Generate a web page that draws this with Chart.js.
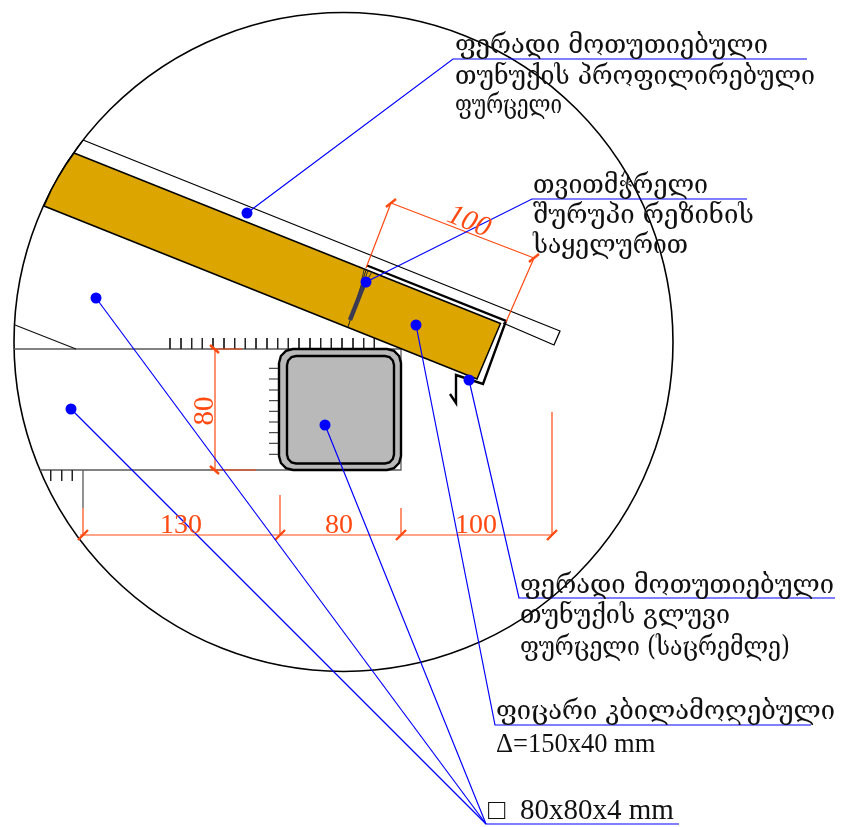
<!DOCTYPE html>
<html>
<head>
<meta charset="utf-8">
<script src="https://cdn.jsdelivr.net/npm/chart.js@4/dist/chart.umd.min.js"></script>
<style>
html, body { margin: 0; background: #fff; }
canvas { display: block; }
</style>
</head>
<body>
<canvas id="detailChart" width="863" height="827"></canvas>
<script>
// all coordinates are drawing units, the axes run 0-863 and 0-827
let circleCenter = [[343.5, 342]];
let beamOutline = [[74, 153], [65.6, 165], [58.3, 177], [51.2, 190], [44, 206], [477, 379], [500.5, 323.5], [74, 153]];
let beamJoint = [[366, 270], [348, 327]];
let screwBody = [[365, 282], [350, 320]];
let screwHead = [[364, 270], [362, 279], null, [368, 270], [365, 279], null, [372, 272], [367, 280]];
let sheetEdges = [[83, 140], [560, 331], [554, 345], [503, 323]];
let sheetStart = [[83, 140], [74, 153]];
let flashing = [[367, 265.5], [506, 321], [483, 384], [456, 375], [456, 403], [450, 394]];
let wallLines = [[14, 349], [401, 349], [401, 470], [40, 470], null, [83, 470], [83, 508]];
let wallSlope = [[15, 325], [76, 349]];
let tubeOuter = [[279, 363], [280.9, 356], [286, 350.9], [293, 349], [387, 349], [394, 350.9], [399.1, 356], [401, 363],
    [401, 456], [399.1, 463], [394, 468.1], [387, 470], [293, 470], [286, 468.1], [280.9, 463], [279, 456], [279, 363]];
let tubeInner = [[287, 365], [288.2, 360.5], [291.5, 357.2], [296, 356], [385, 356], [389.5, 357.2], [392.8, 360.5], [394, 365],
    [394, 454.5], [392.8, 459], [389.5, 462.3], [385, 463.5], [296, 463.5], [291.5, 462.3], [288.2, 459], [287, 454.5], [287, 365]];

let topTickX = [170, 181, 191.7, 202.3, 213, 224, 234.7, 245.3, 256, 267, 277.7, 288.3, 299, 310, 320.7, 331.3, 342, 353, 363.7, 374.3];
let tubeTickY = [368.3, 379, 390, 400.7, 411.3, 422, 432.7, 443.3, 454.3];
let lowerTickX = [50.7, 61.7, 72.3];

let dimLines = [[80, 535], [552, 535], null, [83, 508], [83, 535], null, [280, 495], [280, 535], null, [401, 508], [401, 535], null,
    [552, 412], [552, 535], null, [215, 349], [215, 470], null, [210, 349], [242, 349], null, [210, 470], [256, 470], null,
    [391, 203], [534, 258], null, [391, 203], [366, 268], null, [534, 258], [506, 322]];
let dimSlashes = [[78, 540], [88, 530], null, [275, 540], [285, 530], null, [396, 540], [406, 530], null, [547, 540], [557, 530], null,
    [210, 345], [219, 353], null, [210, 466], [219, 474], null, [386, 207], [396, 199], null, [529, 262], [539, 254]];

let leaderSheet = [[247, 213], [453, 59], [807, 59]];
let leaderScrew = [[366, 282], [532, 199], [747, 199]];
let leaderBoard = [[416, 325], [495, 725], [811, 725]];
let leaderFlat = [[469, 380], [519, 598], [835, 598]];
let leaderTube = [[325, 425], [486, 824], [679, 824]];
let leaderWallTop = [[96, 298], [486, 824]];
let leaderWallLow = [[71, 409], [486, 824]];
let leaderDots = [[247, 213], [366, 282], [416, 325], [469, 380], [325, 425], [96, 298], [71, 409]];

let noteLabels = ['ფერადი მოთუთიებული', 'თუნუქის პროფილირებული', 'ფურცელი',
    'თვითმჭრელი', 'შურუპი რეზინის', 'საყელურით',
    'ფერადი მოთუთიებული', 'თუნუქის გლუვი', 'ფურცელი (საცრემლე)',
    'ფიცარი კბილამოღებული'];
let noteX = [455, 455, 455, 533, 533, 533, 520, 520, 520, 496];
let noteY = [53, 84, 113, 193, 223, 253, 593, 623, 655, 719];
let noteEnd = [768, 815, 562, 708, 754, 688, 834, 730, 790, 835];

let sizeLabels = ['Δ=150x40 mm', '□  80x80x4 mm'];
let sizeX = [496, 488];
let sizeY = [752, 819];
let sizeFont = [26.5, 29];

let dimLabels = ['130', '80', '100'];
let dimLabelX = [181, 339, 476];
let dimLabelY = [533, 533, 533];

function pts(list) {
    return list.map(p => p ? {x: p[0], y: p[1]} : {x: null, y: null});
}

function line(list, color, width, extra) {
    return Object.assign({
        data: pts(list),
        showLine: true,
        borderColor: color,
        borderWidth: width,
        pointRadius: 0,
        fill: false,
        tension: 0,
        spanGaps: false,
        clip: false
    }, extra || {});
}

function crossTicks(values, from, to, vertical) {
    let out = [];
    values.forEach(v => {
        out.push(vertical ? [v, from] : [from, v]);
        out.push(vertical ? [v, to] : [to, v]);
        out.push(null);
    });
    return out;
}

const BLUE = '#0000ff';
const DIM = '#ff4a12';

// painter's order, first one ends up at the bottom
let layers = [
    line(circleCenter, 'rgba(0,0,0,0)', 0, {showLine: false, pointRadius: 329.5, pointBorderColor: '#000', pointBorderWidth: 1.6, pointBackgroundColor: 'rgba(0,0,0,0)'}),
    line(wallLines, '#5a5a5a', 1.3),
    line(wallSlope, '#111', 1.2),
    line(crossTicks(topTickX, 338, 349, true), '#222', 1),
    line(crossTicks(tubeTickY, 269, 279, false), '#222', 1),
    line(crossTicks(lowerTickX, 470, 481, true), '#222', 1),
    line(tubeOuter, '#000', 2.4, {fill: 'shape', backgroundColor: '#b9b9b9'}),
    line(tubeInner, '#000', 2.4),
    line(sheetEdges, '#000', 1.3),
    line(sheetStart, '#000', 1.3),
    line(beamOutline, '#000', 1.5, {fill: 'shape', backgroundColor: '#dca500'}),
    line(beamJoint, '#222', 1),
    line(screwHead, '#333', 1),
    line(screwBody, '#3a3a55', 4.5),
    line(flashing, '#000', 2.4),
    line(dimLines, DIM, 1.2),
    line(dimSlashes, DIM, 2.4),
    line(leaderSheet, BLUE, 1.2),
    line(leaderScrew, BLUE, 1.2),
    line(leaderBoard, BLUE, 1.2),
    line(leaderFlat, BLUE, 1.2),
    line(leaderTube, BLUE, 1.2),
    line(leaderWallTop, BLUE, 1.2),
    line(leaderWallLow, BLUE, 1.2),
    line(leaderDots, BLUE, 0, {showLine: false, pointRadius: 5.5, pointBackgroundColor: BLUE, pointBorderWidth: 0})
];
layers.forEach((d, i) => { d.order = layers.length - i; });

let textPlugin = {
    id: 'drawingText',
    afterDraw(chart) {
        let c = chart.ctx;
        let xs = chart.scales.x;
        let ys = chart.scales.y;
        c.save();
        c.textBaseline = 'alphabetic';
        c.textAlign = 'left';

        c.fillStyle = '#111';
        c.font = '27px "DejaVu Serif"';
        noteLabels.forEach((t, i) => {
            let w = c.measureText(t).width;
            let px = xs.getPixelForValue(noteX[i]);
            c.save();
            c.translate(px, ys.getPixelForValue(noteY[i]));
            c.scale((xs.getPixelForValue(noteEnd[i]) - px) / w, 1);
            c.fillText(t, 0, 0);
            c.restore();
        });

        sizeLabels.forEach((t, i) => {
            c.font = sizeFont[i] + 'px "Liberation Serif"';
            c.fillText(t, xs.getPixelForValue(sizeX[i]), ys.getPixelForValue(sizeY[i]));
        });

        c.fillStyle = DIM;
        c.textAlign = 'center';
        c.font = '28px "Liberation Serif"';
        dimLabels.forEach((t, i) => {
            c.fillText(t, xs.getPixelForValue(dimLabelX[i]), ys.getPixelForValue(dimLabelY[i]));
        });

        c.save();
        c.translate(xs.getPixelForValue(213), ys.getPixelForValue(411));
        c.rotate(-Math.PI / 2);
        c.font = '29px "Liberation Serif"';
        c.fillText('80', 0, 0);
        c.restore();

        c.save();
        c.translate(xs.getPixelForValue(466), ys.getPixelForValue(229));
        c.rotate(22 * Math.PI / 180);
        c.font = 'italic 29px "Liberation Serif"';
        c.fillText('100', 0, 0);
        c.restore();

        c.restore();
    }
};

new Chart(document.getElementById('detailChart').getContext('2d'), {
    type: 'scatter',
    data: {datasets: layers},
    options: {
        responsive: false,
        animation: false,
        events: [],
        layout: {padding: 0, autoPadding: false},
        plugins: {legend: {display: false}, tooltip: {enabled: false}},
        scales: {
            x: {type: 'linear', display: false, min: 0, max: 863},
            y: {type: 'linear', display: false, min: 0, max: 827, reverse: true}
        }
    },
    plugins: [textPlugin]
});
</script>
</body>
</html>
